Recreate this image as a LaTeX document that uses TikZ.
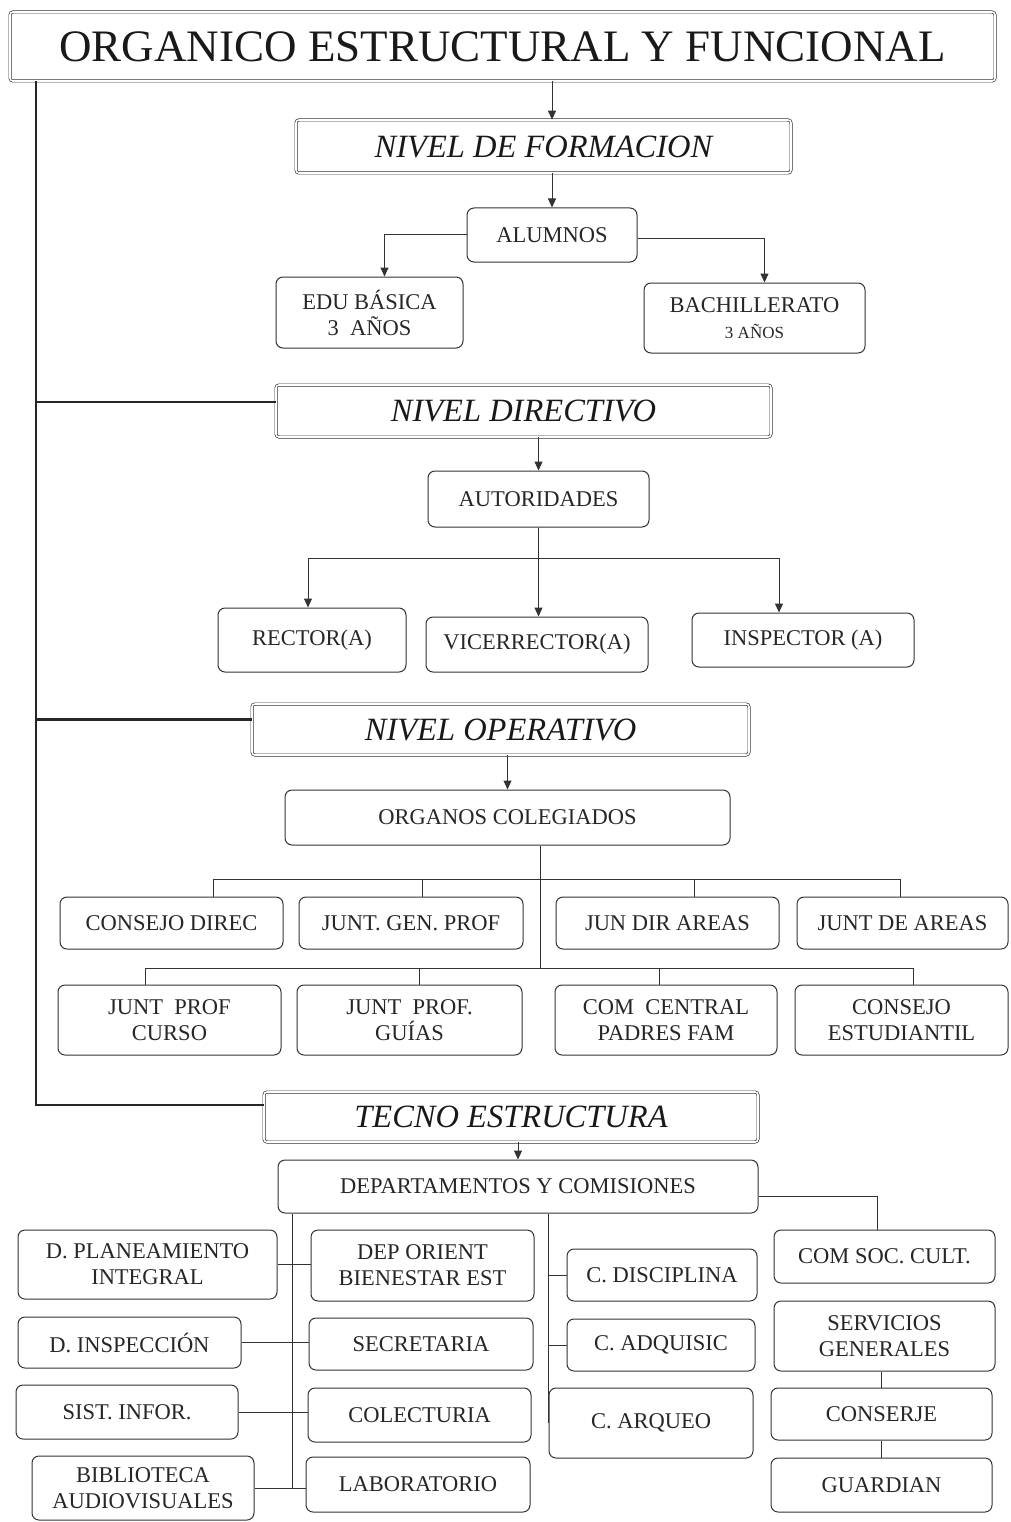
\documentclass[tikz,border=0pt]{standalone}
\usepackage{fontspec}
\setmainfont{Liberation Serif}
\usetikzlibrary{arrows.meta}

\begin{document}
\begin{tikzpicture}[x=1pt,y=-1pt,
  cell/.style={draw=black!80,line width=1pt,rounded corners=7pt,inner sep=2pt,align=center,text=black!85,font=\fontsize{22.5}{26}\selectfont},
  level/.style={draw=black!80,line width=0.7pt,double,double distance=1.6pt,rounded corners=3pt,text=black!90,font=\itshape\fontsize{32.5}{37}\selectfont},
  link/.style={draw=black!80,line width=1pt},
  arr/.style={link,-{Triangle[width=8pt,length=9pt]}},
  spine/.style={draw=black!85,line width=2.6pt}]
\useasboundingbox (0,0) rectangle (1010,1522);

\node[level,minimum width=985,minimum height=69,font=\fontsize{45}{52}\selectfont] (title) at (502.5,46.5) {ORGANICO ESTRUCTURAL Y FUNCIONAL};

\node[level,minimum width=495,minimum height=53] (formacion) at (543.5,146.5) {NIVEL DE FORMACION};
\node[cell,minimum width=170,minimum height=54] (alumnos) at (552,235) {ALUMNOS};
\node[cell,minimum width=187,minimum height=71] (basica) at (369.5,312.5) {EDU BÁSICA\\3~~AÑOS};
\node[cell,minimum width=221,minimum height=70] (bachi) at (754.5,318) {BACHILLERATO\\{\fontsize{17}{19}\selectfont 3 AÑOS}};

\node[level,minimum width=495,minimum height=52] (directivo) at (523.5,411) {NIVEL DIRECTIVO};
\node[cell,minimum width=221,minimum height=56] (autoridades) at (538.5,499) {AUTORIDADES};
\node[cell,minimum width=188,minimum height=64] (rector) at (312,640) {RECTOR(A)};
\node[cell,minimum width=222,minimum height=55] (vice) at (537,644.5) {VICERRECTOR(A)};
\node[cell,minimum width=222,minimum height=54] (inspector) at (803,640) {INSPECTOR (A)};

\node[level,minimum width=497,minimum height=51] (operativo) at (500.5,729.5) {NIVEL OPERATIVO};
\node[cell,minimum width=445,minimum height=55] (organos) at (507.5,817.5) {ORGANOS COLEGIADOS};
\node[cell,minimum width=223,minimum height=52] (consejo) at (171.5,923) {CONSEJO DIREC};
\node[cell,minimum width=224,minimum height=52] (juntgen) at (411,923) {JUNT. GEN. PROF};
\node[cell,minimum width=223,minimum height=52] (jundir) at (667.5,923) {JUN DIR AREAS};
\node[cell,minimum width=211,minimum height=52] (juntareas) at (902.5,923) {JUNT DE AREAS};
\node[cell,minimum width=223,minimum height=70] (curso) at (169.5,1020) {JUNT~~PROF\\CURSO};
\node[cell,minimum width=225,minimum height=70] (guias) at (409.5,1020) {JUNT~~PROF.\\GUÍAS};
\node[cell,minimum width=222,minimum height=70] (padres) at (666,1020) {COM~~CENTRAL\\PADRES FAM};
\node[cell,minimum width=213,minimum height=70] (estud) at (901.5,1020) {CONSEJO\\ESTUDIANTIL};

\node[level,minimum width=494,minimum height=50] (tecno) at (511,1117) {TECNO ESTRUCTURA};
\node[cell,minimum width=480,minimum height=53] (deptos) at (518,1186.5) {DEPARTAMENTOS Y COMISIONES};
\node[cell,minimum width=259,minimum height=69] (planeam) at (147.5,1264.5) {D. PLANEAMIENTO\\INTEGRAL};
\node[cell,minimum width=223,minimum height=51] (inspeccion) at (129.5,1342.5) {D. INSPECCIÓN};
\node[cell,minimum width=222,minimum height=54] (sist) at (127,1412) {SIST. INFOR.};
\node[cell,minimum width=222,minimum height=64] (biblio) at (143,1488) {BIBLIOTECA\\AUDIOVISUALES};
\node[cell,minimum width=223,minimum height=71] (orient) at (422.5,1265.5) {DEP ORIENT\\BIENESTAR EST};
\node[cell,minimum width=224,minimum height=52] (secret) at (421,1344) {SECRETARIA};
\node[cell,minimum width=223,minimum height=54] (colect) at (419.5,1415) {COLECTURIA};
\node[cell,minimum width=224,minimum height=55] (labor) at (418,1484.5) {LABORATORIO};
\node[cell,minimum width=190,minimum height=52] (disc) at (662,1275) {C. DISCIPLINA};
\node[cell,minimum width=188,minimum height=52] (adq) at (661,1345) {C. ADQUISIC};
\node[cell,minimum width=204,minimum height=70] (arqueo) at (651,1423) {C. ARQUEO};
\node[cell,minimum width=221,minimum height=53] (comsoc) at (884.5,1256.5) {COM SOC. CULT.};
\node[cell,minimum width=221,minimum height=70] (servicios) at (884.5,1336) {SERVICIOS\\GENERALES};
\node[cell,minimum width=221,minimum height=52] (conserje) at (881.5,1414) {CONSERJE};
\node[cell,minimum width=221,minimum height=54] (guardian) at (881.5,1485) {GUARDIAN};

\coordinate (spine) at (36,81);
\coordinate (dirin) at ([yshift=9pt]directivo.west);
\coordinate (opein) at ([yshift=10pt]operativo.west);
\coordinate (tecin) at ([yshift=12pt]tecno.west);
\draw[spine] (spine) |- (tecin);
\draw[spine] (spine |- dirin) -- (dirin);
\draw[spine] (spine |- opein) -- (opein);

\draw[arr] (alumnos.north |- title.south) -- (alumnos.north |- formacion.north);
\draw[arr] (formacion.south -| alumnos.north) -- (alumnos.north);
\draw[arr] (alumnos.west) -| ([xshift=15pt]basica.north);
\draw[arr] ([yshift=-4pt]alumnos.east) -| ([xshift=10pt]bachi.north);

\draw[arr] (directivo.south -| autoridades.north) -- (autoridades.north);
\draw[link] (autoridades.south) -- ++(0,31) coordinate (dbar);
\draw[arr] (dbar) -| ([xshift=-4pt]rector.north);
\draw[arr] (dbar) -- (vice.north -| dbar);
\draw[arr] (dbar) -| ([xshift=-24pt]inspector.north);

\draw[arr] (operativo.south -| organos.north) -- (organos.north);
\draw[link] ([xshift=33pt]organos.south) -- ++(0,123) coordinate (obar2);
\coordinate (obar1) at ([xshift=33pt,yshift=-34pt]organos.south);
\draw[link] (obar1) -| ([xshift=42pt]consejo.north);
\draw[link] (obar1) -| ([xshift=11pt]juntgen.north);
\draw[link] (obar1) -| ([xshift=27pt]jundir.north);
\draw[link] (obar1) -| ([xshift=-2pt]juntareas.north);
\draw[link] (obar2) -| ([xshift=-24pt]curso.north);
\draw[link] (obar2) -| ([xshift=10pt]guias.north);
\draw[link] (obar2) -| ([xshift=-7pt]padres.north);
\draw[link] (obar2) -| ([xshift=12pt]estud.north);

\draw[arr] (tecno.south -| deptos.north) -- (deptos.north);
\coordinate (dl) at ([xshift=15pt]deptos.south west);
\draw[link] (dl) -- (dl |- biblio.east);
\draw[link] (planeam.east) -- (orient.west |- planeam.east);
\draw[link] (inspeccion.east) -- (secret.west |- inspeccion.east);
\draw[link] (sist.east) -- (colect.west |- sist.east);
\draw[link] (biblio.east) -- (labor.west |- biblio.east);
\draw[link] (deptos.south -| arqueo.west) -- (arqueo.west);
\draw[link] (disc.west -| arqueo.west) -- (disc.west);
\draw[link] (adq.west -| arqueo.west) -- (adq.west);
\draw[link] ([yshift=-10pt]deptos.east) -| ([xshift=-7pt]comsoc.north);
\draw[link] (conserje.north) -- (conserje.north |- servicios.south);
\draw[link] (guardian.north) -- (conserje.south);
\end{tikzpicture}
\end{document}
